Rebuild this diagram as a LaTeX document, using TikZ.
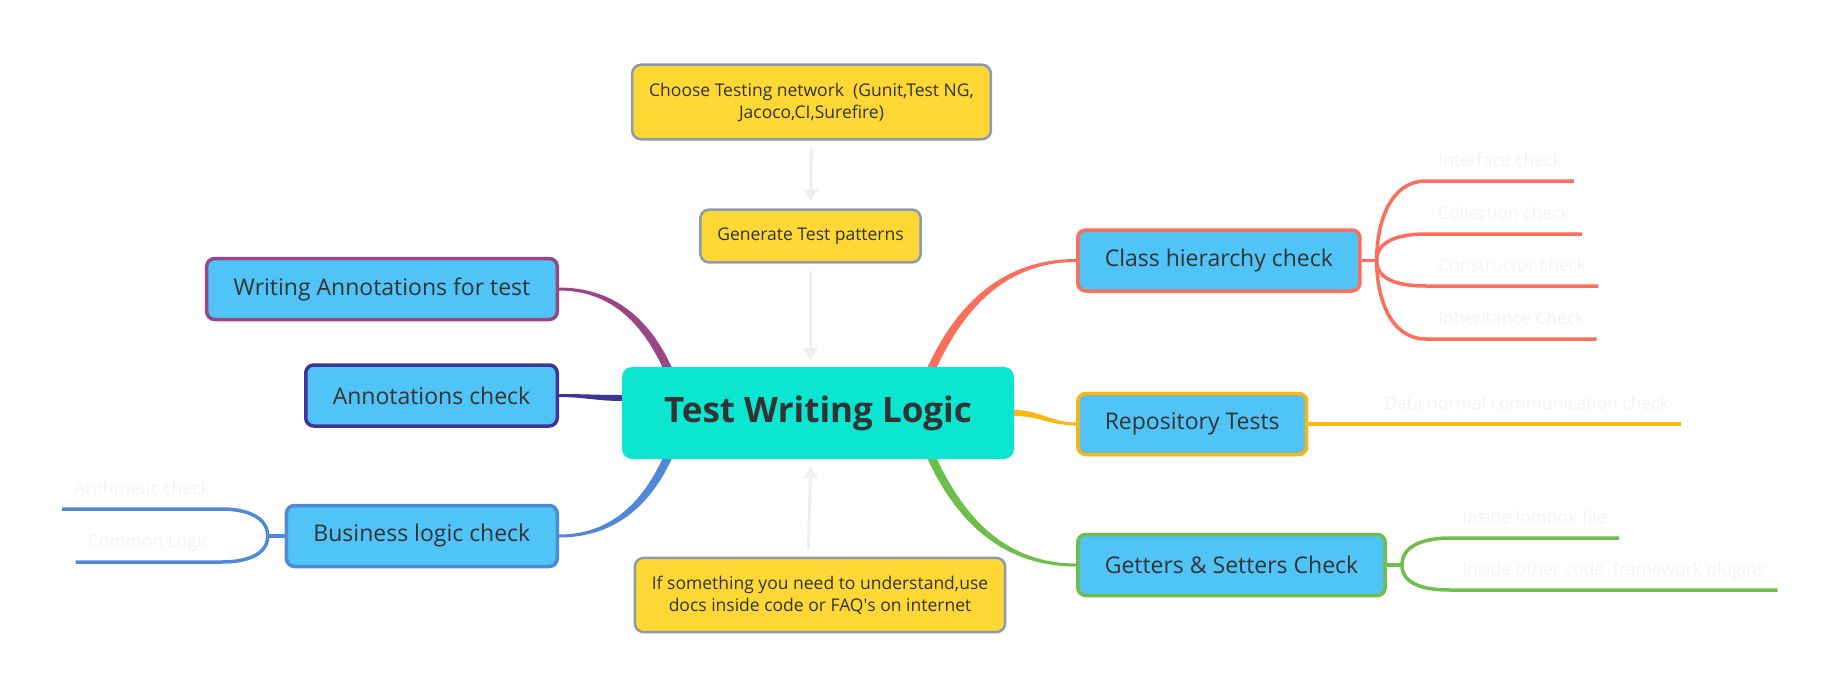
\documentclass[tikz,border=0pt]{standalone}
\usepackage{fontspec}
\setmainfont{Open Sans}
\usetikzlibrary{arrows.meta,backgrounds}

\definecolor{boxblue}{HTML}{50C3F7}
\definecolor{rootcol}{HTML}{0CE5CF}
\definecolor{notecol}{HTML}{FDD835}
\definecolor{noteline}{HTML}{8C9AAF}
\definecolor{inkcol}{HTML}{333333}
\definecolor{faintcol}{HTML}{F3F3F3}
\definecolor{flowcol}{HTML}{EFEFEF}
\definecolor{redcol}{HTML}{FD6D5B}
\definecolor{ambercol}{HTML}{FFB50F}
\definecolor{greencol}{HTML}{6CC04A}
\definecolor{plumcol}{HTML}{9A4585}
\definecolor{navycol}{HTML}{3E3596}
\definecolor{bluecol}{HTML}{5089D8}

\tikzset{
  topic/.style={draw, line width=3.5pt, fill=boxblue, rounded corners=8pt,
    text=inkcol, font=\fontsize{23}{28}\selectfont,
    inner xsep=27pt, inner ysep=0pt, minimum height=61pt},
  notebox/.style={draw=noteline, line width=2.5pt, fill=notecol, rounded corners=9pt,
    text=inkcol, font=\fontsize{17.5}{22}\selectfont, align=center,
    inner xsep=17pt, inner ysep=18pt},
  leaf/.style={text=faintcol, font=\fontsize{17.5}{21}\selectfont,
    inner xsep=12pt, inner ysep=10pt, text height=13pt, text depth=4pt},
  flow/.style={draw=flowcol, line width=3pt, -{Triangle[width=14pt,length=12pt]},
    shorten <=7pt, shorten >=7pt},
  twig/.style={line width=3.5pt},
}

\begin{document}
\begin{tikzpicture}[x=1pt,y=-1pt]
\useasboundingbox (0,0) rectangle (1840,696);

% centre and notes
\node[fill=rootcol, rounded corners=10pt, minimum width=392pt, minimum height=92pt,
  text=inkcol, font=\fontsize{35}{40}\selectfont\bfseries] (root) at (818,413) {Test Writing Logic};
\node[notebox] (choose) at (811.5,102) {Choose Testing network~ (Gunit,Test NG,\\Jacoco,CI,Surefire)};
\node[notebox] (gen) at (810.5,236) {Generate Test patterns};
\node[notebox] (ifsome) at (820,595) {If something you need to understand,use\\docs inside code or FAQ\textquotesingle s on internet};

\draw[flow] (choose.south) -- (gen.north);
\draw[flow] (gen.south) -- (gen.south |- root.north);
\draw[flow] ([xshift=-12pt]ifsome.north) -- ([xshift=-7pt]root.south);

% right topics
\node[topic, draw=redcol, anchor=west] (classh) at (1076,260.5) {Class hierarchy check};
\node[topic, draw=ambercol, anchor=west] (repo) at (1076,424) {Repository Tests};
\node[topic, draw=greencol, anchor=west] (getset) at (1076,565) {Getters \& Setters Check};

% left topics
\node[topic, draw=plumcol, anchor=east] (annwrite) at (559,289) {Writing Annotations for test};
\node[topic, draw=navycol, anchor=east] (annchk) at (559,395.5) {Annotations check};
\node[topic, draw=bluecol, anchor=east] (busi) at (559,536) {Business logic check};

% leaves
\node[leaf, anchor=south west] (ifc) at (1426,181) {Interface check};
\node[leaf, anchor=south west] (coll) at (1426,234) {Collection check};
\node[leaf, anchor=south west] (cons) at (1426,286) {Constructor check};
\node[leaf, anchor=south west] (inh) at (1426,339) {Inheritance Check};
\node[leaf, anchor=south west] (datan) at (1372,424) {Data normal communication check};
\node[leaf, anchor=south west] (lomb) at (1450,538) {Inside lombok file};
\node[leaf, anchor=south west] (othr) at (1450,590) {Inside other code~ framework plugins};
\node[leaf, anchor=south east] (arith) at (222,509) {Arithmetic check};
\node[leaf, anchor=south east] (comm) at (222,562) {Common Logic};

\begin{scope}[on background layer]
  % main branches
  \filldraw[redcol, line width=3pt] ([xshift=-3pt]root.22) to[out=65,in=180] (classh.west)
    to[out=180,in=65] ([xshift=3pt]root.22) -- cycle;
  \filldraw[ambercol, line width=3pt] ([yshift=1.5pt]root.east) to[out=0,in=180] (repo.west)
    to[out=180,in=0] ([yshift=-1.5pt]root.east) -- cycle;
  \filldraw[greencol, line width=3pt] ([xshift=-3pt]root.-22) to[out=-65,in=180] (getset.west)
    to[out=180,in=-65] ([xshift=3pt]root.-22) -- cycle;
  \filldraw[plumcol, line width=3pt] ([xshift=3pt]root.163) to[out=115,in=0] (annwrite.east)
    to[out=0,in=115] ([xshift=-3pt]root.163) -- cycle;
  \filldraw[navycol, line width=3pt] ([yshift=16.5pt]root.west) to[out=180,in=0] (annchk.east)
    to[out=0,in=180] ([yshift=13.5pt]root.west) -- cycle;
  \filldraw[bluecol, line width=3pt] ([xshift=3pt]root.-163) to[out=-115,in=0] (busi.east)
    to[out=0,in=-115] ([xshift=-3pt]root.-163) -- cycle;

  % twigs
  \coordinate (chfork) at ([xshift=15pt]classh.east);
  \draw[twig, redcol] (classh.east) -- (chfork);
  \foreach \lf/\ang in {ifc/90, coll/90, cons/-90, inh/-90}
    \draw[twig, redcol] (chfork) to[out=\ang,in=180] (\lf.south west) -- (\lf.south east);
  \draw[twig, ambercol] (repo.east) -- (datan.south west) -- (datan.south east);
  \coordinate (gsfork) at ([xshift=15pt]getset.east);
  \draw[twig, greencol] (getset.east) -- (gsfork);
  \foreach \lf/\ang in {lomb/90, othr/-90}
    \draw[twig, greencol] (gsfork) to[out=\ang,in=180] (\lf.south west) -- (\lf.south east);
  \coordinate (bufork) at ([xshift=-17pt]busi.west);
  \draw[twig, bluecol] (busi.west) -- (bufork);
  \foreach \lf/\ang in {arith/90, comm/-90}
    \draw[twig, bluecol] (bufork) to[out=\ang,in=0] (\lf.south east) -- (\lf.south west);
\end{scope}
\end{tikzpicture}
\end{document}
